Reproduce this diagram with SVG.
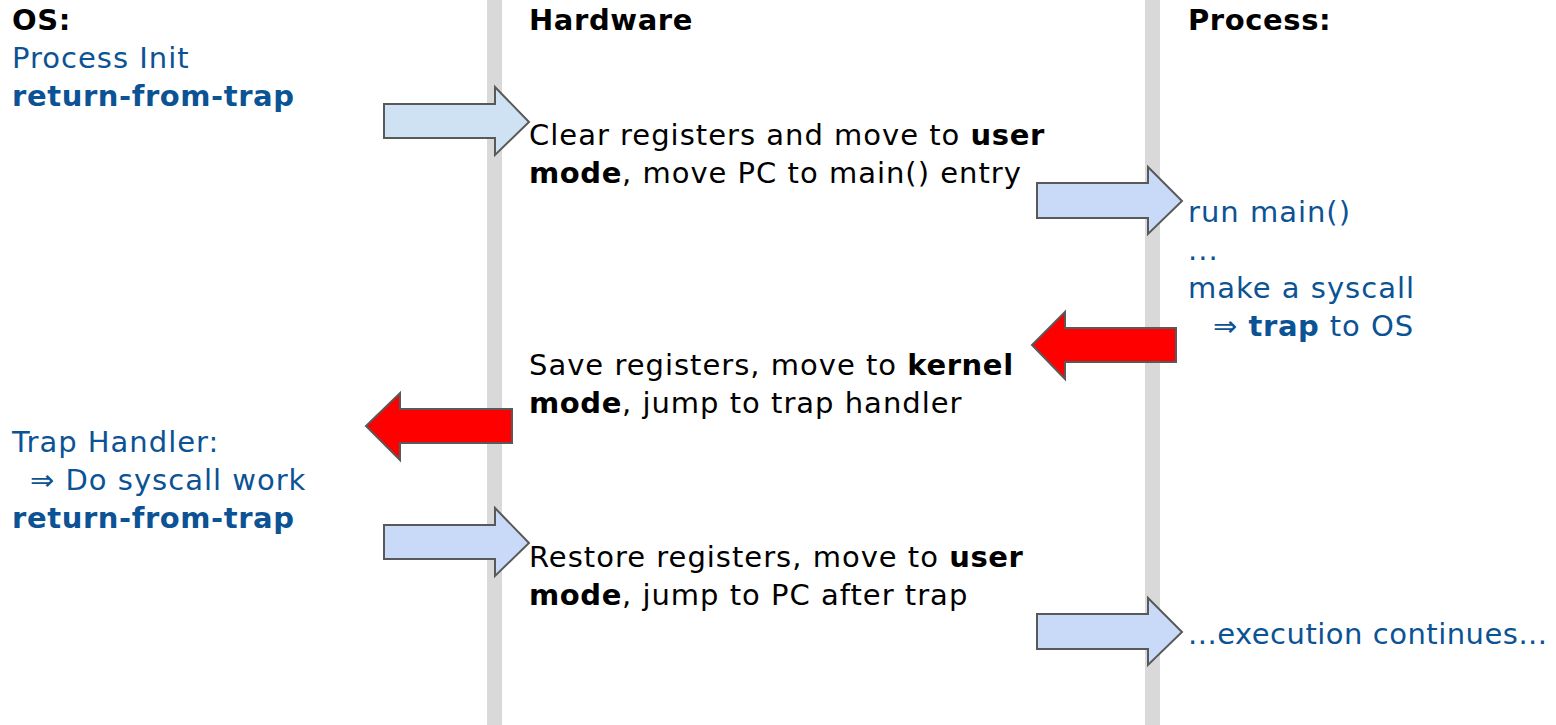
<svg xmlns="http://www.w3.org/2000/svg" width="1556" height="725" viewBox="0 0 1556 725">
<style>
text{font-family:"DejaVu Sans","Open Sans",sans-serif;font-size:29px;letter-spacing:1px;fill:#000}
.b{font-weight:bold;letter-spacing:0.6px}
.blue{fill:#0b5394}
.tight{letter-spacing:0.5px}
.lane{fill:#d9d9d9}
.arr{stroke:#595959;stroke-width:2;stroke-linejoin:miter}
.a1{fill:#cfe2f3}
.a2{fill:#c9daf8}
.red{fill:#ff0000}
</style>
<rect width="1556" height="725" fill="#fff"/>
<g id="lanes">
<rect class="lane" x="487" y="0" width="15" height="725"/>
<rect class="lane" x="1145" y="0" width="15" height="725"/>
</g>
<g id="connectors">
<path class="arr a1" d="M384,104 H495 V87 L529,122 L495,155 V138 H384 Z"/>
<path class="arr a2" d="M1037,183 H1148 V167 L1182,201 L1148,234 V218 H1037 Z"/>
<path class="arr red" d="M1176,328 H1065 V312 L1032,345 L1065,379 V362 H1176 Z"/>
<path class="arr red" d="M512,409 H400 V393 L366,426 L400,460 V443 H512 Z"/>
<path class="arr a2" d="M384,525 H495 V508 L529,543 L495,576 V559 H384 Z"/>
<path class="arr a2" d="M1037,614 H1148 V598 L1182,632 L1148,665 V649 H1037 Z"/>
</g>
<g id="os">
<text x="12" y="30" class="b">OS:</text>
<text x="12" y="68" class="blue">Process Init</text>
<text x="12" y="106" class="blue b">return-from-trap</text>
<text x="12" y="452" class="blue">Trap Handler:</text>
<text x="30" y="490" class="blue">⇒ Do syscall work</text>
<text x="12" y="528" class="blue b">return-from-trap</text>
</g>
<g id="hardware">
<text x="529" y="30" class="b">Hardware</text>
<text x="529" y="145">Clear registers and move to <tspan class="b">user</tspan></text>
<text x="529" y="183"><tspan class="b">mode</tspan>, move PC to main() entry</text>
<text x="529" y="375">Save registers, move to <tspan class="b">kernel</tspan></text>
<text x="529" y="413"><tspan class="b">mode</tspan>, jump to trap handler</text>
<text x="529" y="567">Restore registers, move to <tspan class="b">user</tspan></text>
<text x="529" y="605"><tspan class="b">mode</tspan>, jump to PC after trap</text>
</g>
<g id="process">
<text x="1188" y="30" class="b">Process:</text>
<text x="1188" y="222" class="blue">run main()</text>
<text x="1188" y="260" class="blue">...</text>
<text x="1188" y="298" class="blue">make a syscall</text>
<text x="1213" y="336" class="blue">⇒ <tspan class="b">trap</tspan> to OS</text>
<text x="1188" y="644" class="blue tight">...execution continues...</text>
</g>
</svg>
